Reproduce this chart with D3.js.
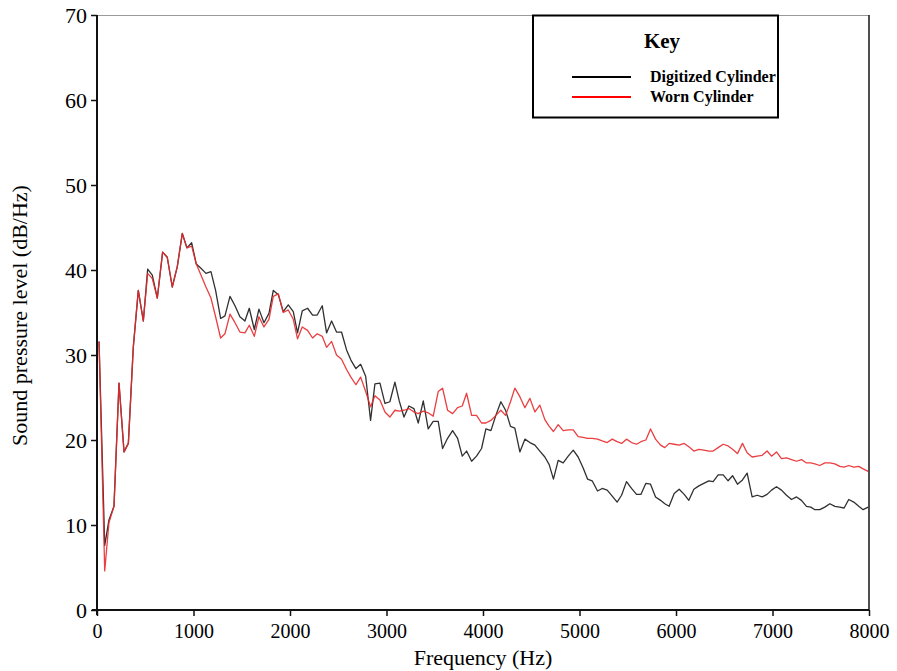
<!DOCTYPE html>
<html>
<head>
<meta charset="utf-8">
<script src="https://cdn.jsdelivr.net/npm/d3@7"></script>
<style>
  html, body { margin: 0; padding: 0; background: #fff; }
  svg { display: block; }
  text { font-family: "Liberation Serif", "Times New Roman", serif; fill: #000; }
</style>
</head>
<body>
<svg id="chart" width="897" height="671"></svg>
<script>
// Frequency bins (Hz) shared by both spectra
const freqHz = [21, 80, 124, 176, 228, 280, 325, 376, 428, 480,
  525, 573, 625, 680, 728, 780, 832, 884, 932, 981,
  1029, 1077, 1129, 1181, 1229, 1281, 1326, 1378, 1430, 1481,
  1533, 1578, 1630, 1678, 1730, 1782, 1827, 1879, 1930, 1982,
  2034, 2078, 2127, 2182, 2234, 2282, 2334, 2379, 2431, 2482,
  2534, 2586, 2631, 2683, 2732, 2784, 2835, 2880, 2932, 2984,
  3035, 3087, 3132, 3181, 3232, 3284, 3329, 3381, 3432, 3484,
  3536, 3581, 3633, 3685, 3737, 3785, 3830, 3882, 3933, 3985,
  4030, 4082, 4133, 4185, 4234, 4285, 4330, 4382, 4434, 4486,
  4538, 4589, 4641, 4686, 4730, 4779, 4831, 4883, 4935, 4986,
  5038, 5083, 5131, 5187, 5235, 5287, 5339, 5390, 5436, 5487,
  5539, 5591, 5636, 5688, 5736, 5788, 5840, 5884, 5929, 5981,
  6033, 6085, 6133, 6185, 6237, 6288, 6340, 6385, 6437, 6489,
  6540, 6586, 6637, 6689, 6737, 6789, 6841, 6893, 6944, 6990,
  7041, 7093, 7145, 7197, 7249, 7300, 7352, 7397, 7439, 7490,
  7542, 7594, 7646, 7697, 7742, 7790, 7842, 7894, 7939, 7991];

// Sound pressure level (dB/Hz), digitized cylinder
const digitizedDb = [31.6, 7.6, 10.6, 12.2, 26.7, 18.6, 19.6, 30.9, 37.6, 34.0,
  40.1, 39.4, 36.7, 42.1, 41.5, 38.0, 40.4, 44.3, 42.6, 43.2,
  40.7, 40.2, 39.6, 39.8, 37.6, 34.3, 34.6, 36.9, 35.8, 34.5,
  34.0, 35.5, 33.0, 35.4, 33.8, 34.9, 37.6, 37.1, 35.1, 35.9,
  35.1, 32.6, 35.2, 35.5, 34.7, 34.7, 35.8, 32.6, 34.0, 32.7,
  32.7, 30.6, 29.4, 28.4, 28.9, 27.5, 22.3, 26.6, 26.7, 24.3,
  24.5, 26.8, 24.6, 22.7, 24.0, 23.7, 22.0, 24.6, 21.3, 22.2,
  22.2, 19.0, 20.2, 21.1, 20.2, 18.1, 18.7, 17.5, 18.1, 19.0,
  21.3, 21.1, 22.9, 24.5, 23.5, 21.6, 21.4, 18.6, 20.1, 19.7,
  19.4, 18.7, 18.0, 17.1, 15.4, 17.6, 17.3, 18.1, 18.8, 18.0,
  16.7, 15.4, 15.2, 14.0, 14.3, 14.1, 13.4, 12.7, 13.5, 15.1,
  14.3, 13.6, 13.6, 14.9, 14.8, 13.3, 12.9, 12.5, 12.2, 13.7,
  14.2, 13.6, 12.9, 14.2, 14.6, 14.9, 15.2, 15.1, 15.9, 15.9,
  15.2, 15.8, 14.8, 15.3, 16.1, 13.3, 13.5, 13.3, 13.6, 14.1,
  14.5, 14.1, 13.5, 13.0, 13.3, 12.9, 12.2, 12.1, 11.8, 11.8,
  12.1, 12.5, 12.2, 12.1, 12.0, 13.0, 12.7, 12.2, 11.8, 12.1];

// Sound pressure level (dB/Hz), worn cylinder
const wornDb = [31.6, 4.6, 10.3, 12.2, 26.7, 18.6, 19.6, 30.9, 37.6, 34.0,
  39.6, 39.0, 36.7, 42.1, 41.5, 38.0, 40.4, 44.3, 42.6, 42.8,
  40.7, 39.4, 38.0, 36.7, 34.5, 32.0, 32.5, 34.8, 33.8, 32.7,
  32.6, 33.5, 32.2, 34.5, 33.3, 34.2, 36.9, 37.2, 35.0, 35.3,
  34.2, 31.9, 33.3, 32.9, 32.0, 32.5, 32.2, 30.9, 31.6, 30.0,
  29.5, 28.3, 27.4, 26.5, 27.4, 25.7, 23.9, 25.2, 24.7, 23.3,
  22.7, 23.5, 23.4, 23.5, 23.7, 23.3, 23.1, 23.4, 23.2, 22.8,
  25.7, 26.1, 23.5, 23.1, 23.8, 24.0, 25.5, 22.9, 22.9, 22.0,
  22.0, 22.3, 22.9, 23.5, 22.9, 24.5, 26.1, 25.1, 23.8, 24.9,
  23.3, 24.1, 22.4, 21.6, 21.0, 21.8, 21.1, 21.2, 21.2, 20.4,
  20.3, 20.2, 20.2, 20.1, 19.9, 19.7, 20.1, 19.8, 19.6, 20.1,
  19.7, 19.5, 19.8, 20.0, 21.3, 20.1, 19.4, 19.1, 19.6, 19.5,
  19.4, 19.6, 19.2, 18.7, 18.9, 18.8, 18.7, 18.7, 19.1, 19.5,
  19.3, 18.9, 18.4, 19.6, 18.5, 18.0, 18.1, 18.2, 18.7, 18.1,
  18.6, 17.8, 17.9, 17.7, 17.5, 17.7, 17.3, 17.3, 17.2, 17.0,
  17.3, 17.3, 17.2, 16.9, 16.8, 17.0, 16.8, 16.9, 16.6, 16.3];

const xTicks = [0, 1000, 2000, 3000, 4000, 5000, 6000, 7000, 8000];
const yTicks = [0, 10, 20, 30, 40, 50, 60, 70];
const seriesNames = ["Digitized Cylinder", "Worn Cylinder"];
const seriesColors = ["#1a1a1a", "#e8292b"];

const svg = d3.select("#chart");
const plotLeft = 97, plotRight = 869, plotTop = 15, plotBottom = 610;

const x = d3.scaleLinear().domain([0, 8000]).range([plotLeft, plotRight]);
const y = d3.scaleLinear().domain([0, 70]).range([plotBottom, plotTop]);

// frame: thin top and right edges
svg.append("line").attr("x1", plotLeft).attr("x2", plotRight).attr("y1", plotTop + 0.5).attr("y2", plotTop + 0.5)
  .attr("stroke", "#999").attr("stroke-width", 1);
svg.append("line").attr("x1", plotRight).attr("x2", plotRight).attr("y1", plotTop).attr("y2", plotBottom)
  .attr("stroke", "#222").attr("stroke-width", 1.6);

// axes
const xAxis = d3.axisBottom(x).tickValues(xTicks).tickSize(6).tickPadding(8).tickFormat(d3.format("d"));
const yAxis = d3.axisLeft(y).tickValues(yTicks).tickSize(6).tickPadding(4).tickFormat(d3.format("d"));

const gx = svg.append("g").attr("transform", `translate(0,${plotBottom})`).call(xAxis);
gx.select(".domain").attr("d", `M${plotLeft - 5},0H${plotRight}`).attr("stroke", "#111").attr("stroke-width", 2);
gx.selectAll(".tick line").attr("stroke", "#111").attr("stroke-width", 1.5);
gx.selectAll(".tick text").style("font-size", "20px").attr("fill", "#111");

const gy = svg.append("g").attr("transform", `translate(${plotLeft},0)`).call(yAxis);
gy.select(".domain").attr("d", `M0,${plotTop}V${plotBottom + 5}`).attr("stroke", "#111").attr("stroke-width", 2);
gy.selectAll(".tick line").attr("stroke", "#111").attr("stroke-width", 1.5);
gy.selectAll(".tick text").style("font-size", "22px").attr("fill", "#111");

// axis titles
svg.append("text").attr("x", (plotLeft + plotRight) / 2).attr("y", 665)
  .attr("text-anchor", "middle").style("font-size", "22px").text("Frequency (Hz)");
svg.append("text").attr("transform", `translate(27,${(plotTop + plotBottom) / 2 + 3}) rotate(-90)`)
  .attr("text-anchor", "middle").style("font-size", "22px").text("Sound pressure level (dB/Hz)");

// spectra
const seriesData = [digitizedDb, wornDb];
const line = d3.line().x((d, i) => x(freqHz[i])).y(d => y(d));
seriesData.forEach((vals, k) => {
  svg.append("path").datum(vals)
    .attr("fill", "none")
    .attr("stroke", seriesColors[k])
    .attr("stroke-width", 1.3)
    .attr("stroke-opacity", 0.9)
    .attr("stroke-linejoin", "round")
    .attr("d", line);
});

// legend box
const lg = svg.append("g");
lg.append("rect").attr("x", 533).attr("y", 15.5).attr("width", 245).attr("height", 102)
  .attr("fill", "#fff").attr("stroke", "#000").attr("stroke-width", 2);
lg.append("text").attr("x", 662).attr("y", 48).attr("text-anchor", "middle")
  .style("font-size", "21px").style("font-weight", "bold").text("Key");
seriesNames.forEach((name, k) => {
  const yy = 77 + k * 20;
  lg.append("line").attr("x1", 572).attr("x2", 631).attr("y1", yy).attr("y2", yy)
    .attr("stroke", k === 0 ? "#000" : "#f00").attr("stroke-width", 2);
  lg.append("text").attr("x", 650).attr("y", yy + 5)
    .style("font-size", "16px").style("font-weight", "bold").text(name);
});
</script>
</body>
</html>
